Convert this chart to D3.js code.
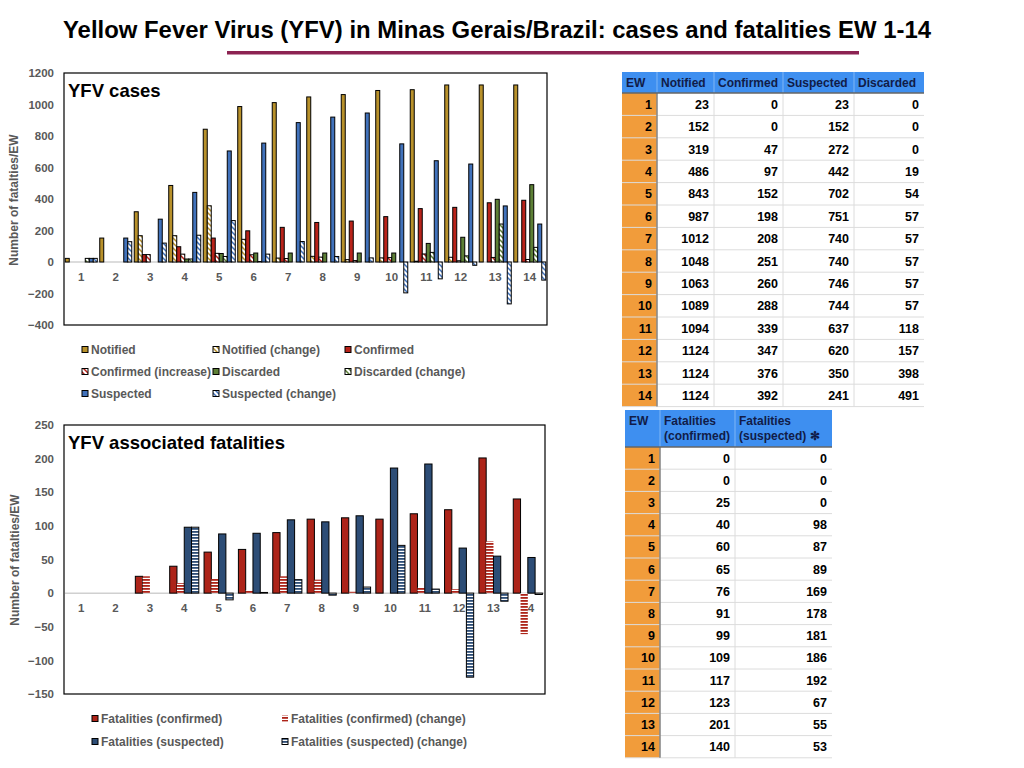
<!DOCTYPE html>
<html><head><meta charset="utf-8">
<script src="https://cdn.jsdelivr.net/npm/d3@7"></script>
<style>
body{margin:0;background:#fff}
svg{display:block}
text{font-family:"Liberation Sans",Arial,Helvetica,sans-serif}
</style>
</head><body>
<svg id="c" width="1024" height="768"></svg>
<script>
// ---------------- DATA ----------------
const weeks = [1,2,3,4,5,6,7,8,9,10,11,12,13,14];

// Cases chart
const notified        = [23,152,319,486,843,987,1012,1048,1063,1089,1094,1124,1124,1124];
const notifiedChange  = [0,0,167,167,357,144,25,36,15,26,5,30,0,0];
const confirmed       = [0,0,47,97,152,198,220,251,260,288,339,347,376,392];
const confirmedInc    = [0,0,47,50,55,46,22,31,9,28,51,8,29,16];
const discarded       = [0,0,0,19,54,57,57,57,57,57,118,157,398,491];
const discardedChange = [23,0,0,19,35,3,0,0,0,0,61,39,241,93];
const suspected       = [23,152,272,442,705,755,885,920,946,750,643,622,356,241];
const suspectedChange = [23,129,120,170,263,50,130,35,26,-196,-107,-21,-266,-115];
const casesTicks = [1200,1000,800,600,400,200,0,-200,-400];

// Fatalities chart
const fatConf       = [0,0,25,40,61,65,90,110,112,110,118,124,201,140];
const fatConfChange = [0,0,25,15,21,4,25,20,2,0,8,6,77,-61];
const fatSusp       = [0,0,0,98,88,89,109,106,115,186,192,67,55,53];
const fatSuspChange = [0,0,0,98,-10,1,20,-3,9,71,6,-125,-12,-2];
const fatTicks = [250,200,150,100,50,0,-50,-100,-150];

// Tables
const tblHeader1   = ["EW","Notified","Confirmed","Suspected","Discarded"];
const tblNotified  = [23,152,319,486,843,987,1012,1048,1063,1089,1094,1124,1124,1124];
const tblConfirmed = [0,0,47,97,152,198,208,251,260,288,339,347,376,392];
const tblSuspected = [23,152,272,442,702,751,740,740,746,744,637,620,350,241];
const tblDiscarded = [0,0,0,19,54,57,57,57,57,57,118,157,398,491];
const tblHeader2   = [["EW"],["Fatalities","(confirmed)"],["Fatalities","(suspected) \u273B"]];
const tblFatConf   = [0,0,25,40,60,65,76,91,99,109,117,123,201,140];
const tblFatSusp   = [0,0,0,98,87,89,169,178,181,186,192,67,55,53];

// ---------------- DRAWING ----------------
const svg = d3.select("#c");
const defs = svg.append("defs");
const GRAY = "#595959";

function diagPattern(id, color){
  const p = defs.append("pattern").attr("id", id).attr("patternUnits","userSpaceOnUse")
    .attr("width",5).attr("height",5);
  p.append("rect").attr("width",5).attr("height",5).attr("fill","#fff");
  p.append("path").attr("d","M-1,-1L6,6M-1,4L1,6M4,-1L6,1")
    .attr("stroke",color).attr("stroke-width",1.5);
}
function stripePattern(id, color){
  const p = defs.append("pattern").attr("id", id).attr("patternUnits","userSpaceOnUse")
    .attr("width",4).attr("height",3);
  p.append("rect").attr("width",4).attr("height",3).attr("fill","#fff");
  p.append("rect").attr("width",4).attr("height",1.8).attr("fill",color);
}
const C = {gold:"#b8912b", red:"#b9231a", green:"#5d7f36", blue:"#4172bb", dred:"#ad2419", dblue:"#2d4d76"};
diagPattern("hGold", C.gold); diagPattern("hRed", C.red); diagPattern("hGreen", C.green); diagPattern("hBlue", C.blue);
stripePattern("sRed", C.dred); stripePattern("sBlue", C.dblue);

// Title
svg.append("text").attr("x",497).attr("y",38).attr("text-anchor","middle")
  .attr("font-size",24).attr("font-weight","bold")
  .style("font-family",'"Liberation Sans Narrow","Arial Narrow","Liberation Sans",sans-serif')
  .attr("textLength",868).attr("lengthAdjust","spacingAndGlyphs")
  .text("Yellow Fever Virus (YFV) in Minas Gerais/Brazil: cases and fatalities EW 1-14");
svg.append("rect").attr("x",227).attr("y",51).attr("width",632).attr("height",3.5).attr("fill","#8c2352");

function drawChart(cfg){
  const g = svg.append("g");
  const x = d3.scaleBand().domain(weeks).range([cfg.x0, cfg.x1]);
  const x1 = d3.scaleBand().domain(cfg.series.map(s=>s.name)).range([0, x.bandwidth()])
    .paddingInner(0).paddingOuter(cfg.outer);
  const y = d3.scaleLinear().domain(cfg.domain).range([cfg.y1, cfg.y0]);

  // frame
  g.append("rect").attr("x",cfg.x0).attr("y",cfg.y0).attr("width",cfg.x1-cfg.x0).attr("height",cfg.y1-cfg.y0)
    .attr("fill","#fff").attr("stroke","#000").attr("stroke-width",1.2);
  // y axis
  const ax = g.append("g").attr("transform",`translate(${cfg.x0},0)`)
    .call(d3.axisLeft(y).tickValues(cfg.ticks).tickSize(0).tickPadding(10).tickFormat(d3.format("d")));
  ax.select(".domain").remove();
  ax.selectAll("text").attr("fill",GRAY).attr("font-size",11.5).attr("font-weight","bold")
    .style("font-family",'"Liberation Sans",Arial,sans-serif');
  // axis title
  g.append("text").attr("transform",`translate(${cfg.titleX},${cfg.titleY}) rotate(-90)`)
    .attr("text-anchor","middle").attr("fill",GRAY).attr("font-size",12).attr("font-weight","bold")
    .text("Number of fatalties/EW");
  // zero line
  g.append("line").attr("x1",cfg.x0+1).attr("x2",cfg.x1-1).attr("y1",y(0)).attr("y2",y(0))
    .attr("stroke","#d0d0d0").attr("stroke-width",1.5);
  // category labels
  g.selectAll(".cat").data(weeks).join("text").attr("class","cat")
    .attr("x",d=>x(d)+x.bandwidth()/2).attr("y",y(0)+cfg.labelDy).attr("text-anchor","middle")
    .attr("fill",GRAY).attr("font-size",11.5).attr("font-weight","bold").text(d=>d);
  // bars
  cfg.series.forEach(s=>{
    g.selectAll(null).data(s.values.map((v,i)=>({v, w:weeks[i]})).filter(d=>d.v!==0)).join("rect")
      .attr("x",d=>x(d.w)+x1(s.name)).attr("width",x1.bandwidth())
      .attr("y",d=>y(Math.max(0,d.v))).attr("height",d=>Math.abs(y(d.v)-y(0)))
      .attr("fill",s.fill).attr("stroke",s.stroke? "#000":"none").attr("stroke-width",1);
  });
  // chart title
  g.append("text").attr("x",cfg.x0+4).attr("y",cfg.y0+24).attr("font-size",18.5).attr("font-weight","bold")
    .attr("fill","#000").text(cfg.title);
  // legend
  cfg.series.forEach((s,i)=>{
    const col = i % cfg.legCols, row = Math.floor(i / cfg.legCols);
    const lx = cfg.legX[col], ly = cfg.legY + row*cfg.legDy;
    g.append("rect").attr("x",lx).attr("y",ly-3.5).attr("width",6).attr("height",6)
      .attr("fill",s.fill).attr("stroke",s.stroke? "#000":"none").attr("stroke-width",1);
    g.append("text").attr("x",lx+9).attr("y",ly+4).attr("fill",GRAY).attr("font-size",12)
      .attr("font-weight","bold").text(s.name);
  });
}

drawChart({
  x0:64, x1:547, y0:73, y1:325, domain:[-400,1200], ticks:casesTicks, outer:0.31, titleX:18, titleY:200, labelDy:19,
  title:"YFV cases", legCols:3, legX:[82,213,345], legY:350, legDy:22,
  series:[
    {name:"Notified", values:notified, fill:C.gold, stroke:true},
    {name:"Notified (change)", values:notifiedChange, fill:"url(#hGold)", stroke:true},
    {name:"Confirmed", values:confirmed, fill:C.red, stroke:true},
    {name:"Confirmed (increase)", values:confirmedInc, fill:"url(#hRed)", stroke:true},
    {name:"Discarded", values:discarded, fill:C.green, stroke:true},
    {name:"Discarded (change)", values:discardedChange, fill:"url(#hGreen)", stroke:true},
    {name:"Suspected", values:suspected, fill:C.blue, stroke:true},
    {name:"Suspected (change)", values:suspectedChange, fill:"url(#hBlue)", stroke:true}
  ]
});

drawChart({
  x0:64, x1:545, y0:425, y1:694, domain:[-150,250], ticks:fatTicks, outer:0.36, titleX:19, titleY:560, labelDy:19,
  title:"YFV associated fatalities", legCols:2, legX:[92,282], legY:719, legDy:23,
  series:[
    {name:"Fatalities (confirmed)", values:fatConf, fill:C.dred, stroke:true},
    {name:"Fatalities (confirmed) (change)", values:fatConfChange, fill:"url(#sRed)", stroke:false},
    {name:"Fatalities (suspected)", values:fatSusp, fill:C.dblue, stroke:true},
    {name:"Fatalities (suspected) (change)", values:fatSuspChange, fill:"url(#sBlue)", stroke:true}
  ]
});

// ---------------- TABLES ----------------
const HBLUE = "#3e8ff0", ORANGE = "#f19c3b", HTEXT = "#111c48";
function drawTable(cfg){
  const g = svg.append("g");
  const cols = cfg.cols, nR = weeks.length;
  const x0 = cols[0], x1 = cols[cols.length-1];
  const ry = i => cfg.hy1 + i*cfg.rh;
  g.append("rect").attr("x",x0).attr("y",cfg.hy0).attr("width",x1-x0).attr("height",cfg.hy1-cfg.hy0).attr("fill",HBLUE);
  g.append("rect").attr("x",x0).attr("y",cfg.hy1).attr("width",cols[1]-x0).attr("height",nR*cfg.rh).attr("fill",ORANGE);
  for(let i=1;i<=nR;i++){
    g.append("line").attr("x1",x0).attr("x2",x1).attr("y1",ry(i)).attr("y2",ry(i))
      .attr("stroke", "#dcdcdc").attr("stroke-width",1);
  }
  for(let c=2;c<cols.length-1;c++){
    g.append("line").attr("x1",cols[c]).attr("x2",cols[c]).attr("y1",cfg.hy1).attr("y2",ry(nR))
      .attr("stroke","#dcdcdc").attr("stroke-width",1);
    g.append("line").attr("x1",cols[c]).attr("x2",cols[c]).attr("y1",cfg.hy0).attr("y2",cfg.hy1)
      .attr("stroke","#7fb6f6").attr("stroke-width",1);
  }
  g.append("line").attr("x1",cols[1]).attr("x2",cols[1]).attr("y1",cfg.hy0).attr("y2",cfg.hy1)
    .attr("stroke","#7fb6f6").attr("stroke-width",1);
  g.append("line").attr("x1",cols[1]).attr("x2",cols[1]).attr("y1",cfg.hy1).attr("y2",ry(nR))
    .attr("stroke","#8a8a8a").attr("stroke-width",1.6);
  g.append("line").attr("x1",x0).attr("x2",x1).attr("y1",cfg.hy1).attr("y2",cfg.hy1)
    .attr("stroke","#666").attr("stroke-width",1.4);
  cfg.header.forEach((lines,c)=>{
    (Array.isArray(lines)?lines:[lines]).forEach((t,k)=>{
      g.append("text").attr("x",cols[c]+4).attr("y",cfg.hTextY + k*15).attr("fill",HTEXT)
        .attr("font-size",12).attr("font-weight","bold").text(t);
    });
  });
  const colsData = [weeks].concat(cfg.data);
  colsData.forEach((arr,c)=>{
    g.selectAll(null).data(arr).join("text")
      .attr("x",cols[c+1]-5).attr("y",(d,i)=>ry(i)+cfg.rh/2+4.5).attr("text-anchor","end")
      .attr("fill","#000").attr("font-size",12.5).attr("font-weight","bold").text(d=>d);
  });
}
drawTable({cols:[622,657,714,783,854,924], hy0:72, hy1:93, rh:22.4, hTextY:87,
  header:tblHeader1, data:[tblNotified,tblConfirmed,tblSuspected,tblDiscarded]});
drawTable({cols:[625,660,735,832], hy0:410, hy1:447, rh:22.2, hTextY:425,
  header:tblHeader2, data:[tblFatConf,tblFatSusp]});
</script>
</body></html>
